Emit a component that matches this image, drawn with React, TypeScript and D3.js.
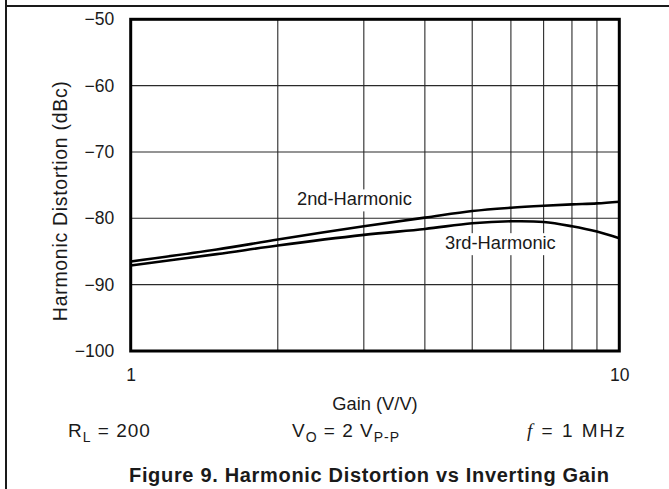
import React, { useEffect, useLayoutEffect, useRef, FC } from 'react';
import * as d3 from 'd3';

// values
const gains: number[] = [1, 1.5, 2, 3, 4, 5, 6, 7, 8, 9, 10];
const secondHarmonic: number[] = [-86.5, -84.7, -83.2, -81.2, -79.9, -78.9, -78.4, -78.1, -77.9, -77.75, -77.5];
const thirdHarmonic: number[] = [-87.1, -85.4, -84.1, -82.5, -81.6, -80.75, -80.45, -80.55, -81.2, -82.0, -83.0];

const yTicks: number[] = [-100, -90, -80, -70, -60, -50];
const xTicks: number[] = [1, 10];
const xGrid: number[] = [2, 3, 4, 5, 6, 7, 8, 9];

const curveLabels: string[] = ['2nd-Harmonic', '3rd-Harmonic'];
const curveLabelGain: number[] = [2.87, 5.71];
const curveLabelDb: number[] = [-78.05, -84.65];

const FONT = "'Liberation Sans', Arial, Helvetica, sans-serif";
const INK = '#1a1a1a';

type Margin = { left: number; top: number; right: number; bottom: number };

/* Text with a white box behind it, so gridlines break around it */
const MaskedLabel: FC<{ x: number; y: number; text: string }> = ({ x, y, text }) => {
  const textRef = useRef<SVGTextElement | null>(null);
  const rectRef = useRef<SVGRectElement | null>(null);
  useLayoutEffect(() => {
    if (!textRef.current || !rectRef.current) return;
    const b = textRef.current.getBBox();
    d3.select(rectRef.current)
      .attr('x', b.x - 4)
      .attr('y', b.y + 1)
      .attr('width', b.width + 8)
      .attr('height', b.height + 1);
  }, [x, y, text]);
  return (
    <g>
      <rect ref={rectRef} fill="#fff" />
      <text ref={textRef} x={x} y={y} textAnchor="middle" fontSize={18.3} fill={INK}>
        {text}
      </text>
    </g>
  );
};

const App: FC = () => {
  const xAxisRef = useRef<SVGGElement | null>(null);
  const yAxisRef = useRef<SVGGElement | null>(null);
  const width = 669;
  const height = 489;
  const margin: Margin = { left: 130.7, top: 19.3, right: 49.7, bottom: 138 };

  const x = d3.scaleLog().domain([1, 10]).range([margin.left, width - margin.right]);
  const y = d3.scaleLinear().domain([-100, -50]).range([height - margin.bottom, margin.top]);

  const line = d3
    .line<number>()
    .x((_, i) => x(gains[i]))
    .y((d) => y(d))
    .curve(d3.curveCatmullRom.alpha(0.5));

  useEffect(() => {
    const yAxis: any = d3
      .axisLeft(y)
      .tickValues(yTicks)
      .tickFormat(d3.format('d') as any)
      .tickSize(0)
      .tickPadding(15);
    const xAxis: any = d3
      .axisBottom(x)
      .tickValues(xTicks)
      .tickFormat((d: any) => String(d))
      .tickSize(0)
      .tickPadding(18);
    [d3.select(yAxisRef.current).call(yAxis), d3.select(xAxisRef.current).call(xAxis)].forEach((g: any) => {
      g.select('.domain').remove();
      g.attr('font-family', FONT).attr('font-size', 17.5);
      g.selectAll('text').attr('fill', INK);
    });
  }, []);

  const plotW = width - margin.left - margin.right;
  const plotH = height - margin.top - margin.bottom;

  return (
    <svg
      width={width}
      height={height}
      style={{ position: 'absolute', left: 0, top: 0, background: '#fff' }}
      fontFamily={FONT}
    >
      {/* page frame */}
      <line x1={6} x2={width} y1={6} y2={6} stroke={INK} strokeWidth={2} />
      <line x1={6} x2={6} y1={0} y2={height} stroke={INK} strokeWidth={2} />

      <g id="grid" stroke="#2a2a2a" strokeWidth={1.1}>
        {yTicks.slice(1, -1).map((t) => (
          <line key={'h' + t} x1={margin.left} x2={width - margin.right} y1={y(t)} y2={y(t)} />
        ))}
        {xGrid.map((g) => (
          <line key={'v' + g} x1={x(g)} x2={x(g)} y1={margin.top} y2={height - margin.bottom} />
        ))}
      </g>

      <g id="curve-labels" fontFamily={FONT}>
        {curveLabels.map((t, i) => (
          <MaskedLabel key={t} x={x(curveLabelGain[i])} y={y(curveLabelDb[i])} text={t} />
        ))}
      </g>

      <g id="curves" fill="none" stroke="#000" strokeWidth={2.6} strokeLinejoin="round">
        <path d={line(secondHarmonic) || ''} />
        <path d={line(thirdHarmonic) || ''} />
      </g>

      <rect
        x={margin.left}
        y={margin.top}
        width={plotW}
        height={plotH}
        fill="none"
        stroke="#000"
        strokeWidth={3}
      />

      <g ref={yAxisRef} transform={`translate(${margin.left - 1.5},0)`} />
      <g ref={xAxisRef} transform={`translate(0,${height - margin.bottom})`} />

      <text
        transform={`translate(60,${margin.top + plotH / 2 + 16}) rotate(-90)`}
        textAnchor="middle"
        dominantBaseline="central"
        fontSize={19.5}
        textLength={240}
        fill={INK}
      >
        Harmonic Distortion (dBc)
      </text>

      <text x={margin.left + plotW / 2} y={409.5} textAnchor="middle" fontSize={18.3} fill={INK}>
        Gain (V/V)
      </text>

      <g fontSize={19} fill={INK} letterSpacing={1}>
        <text x={68} y={436.7}>
          R<tspan fontSize={14} dy={5}>L</tspan>
          <tspan dy={-5}> = 200</tspan>
        </text>
        <text x={292} y={436.7}>
          V<tspan fontSize={14} dy={5}>O</tspan>
          <tspan dy={-5}> = 2 V</tspan>
          <tspan fontSize={14} dy={5}>P-P</tspan>
        </text>
        <text x={527} y={436.7} letterSpacing={2}>
          <tspan fontFamily="'Liberation Serif', 'DejaVu Serif', serif" fontStyle="italic">f</tspan> = 1 MHz
        </text>
      </g>

      <text
        x={369}
        y={481.7}
        textAnchor="middle"
        fontSize={20}
        fontWeight="bold"
        textLength={480}
        fill={INK}
      >
        Figure 9. Harmonic Distortion vs Inverting Gain
      </text>
    </svg>
  );
};

export default App;
